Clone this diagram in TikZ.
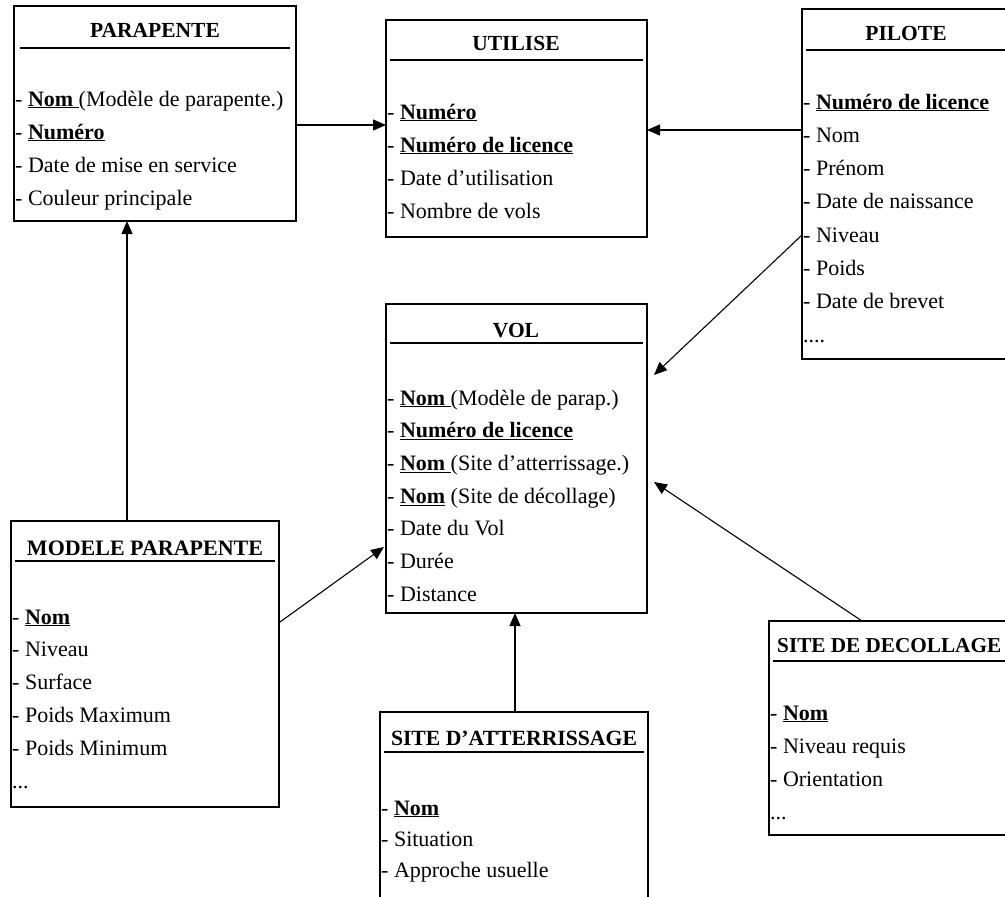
\documentclass[tikz,border=0pt]{standalone}
\usepackage{fontspec}
\usepackage{graphicx}
\setmainfont{Liberation Serif}
\usetikzlibrary{arrows.meta,calc}
\newcommand\attrlist[5]{\foreach \t [count=\i from 0] in {#5} \node[attr] (#1-\i) at (#2,{#3+#4*\i}) {\t};}
\newcommand\ellthree{...}
\newcommand\ellfour{....}
\begin{document}
\begin{tikzpicture}[x=1pt,y=-1pt,
  box/.style={draw, line width=1.6pt, inner sep=0pt, outer sep=0pt, anchor=north west},
  ttl/.style={font=\fontsize{21.5}{24}\selectfont\bfseries, inner sep=0pt, anchor=base},
  attr/.style={font=\fontsize{22}{24}\selectfont, inner sep=0pt, anchor=base west},
  sep/.style={line width=1.4pt},
  link/.style={line width=1.1pt, -{Triangle[length=13pt,width=11pt]}},
]
\useasboundingbox (0,0) rectangle (1005,897);
\clip (0,0) rectangle (1005,897);

% boxes
\node[box, minimum width=282pt, minimum height=215pt] (parapente) at (14,6) {};
\node[box, minimum width=261pt, minimum height=217pt] (utilise) at (386,20) {};
\node[box, minimum width=208pt, minimum height=350pt] (pilote) at (802,9) {};
\node[box, minimum width=261pt, minimum height=309pt] (vol) at (386,304) {};
\node[box, minimum width=268pt, minimum height=286pt] (modele) at (11,521) {};
\node[box, minimum width=268pt, minimum height=200pt] (atter) at (380,712) {};
\node[box, minimum width=246pt, minimum height=214pt] (decol) at (769,621) {};

% titles
\node[ttl] (t-parapente) at (155,37) {PARAPENTE};
\node[ttl] (t-utilise) at (516,50) {UTILISE};
\node[ttl] (t-pilote) at (906,40) {PILOTE};
\node[ttl] (t-vol) at (516,337) {VOL};
\node[ttl] (t-modele) at (145,555) {\resizebox{236pt}{!}{MODELE PARAPENTE}};
\node[ttl] (t-atter) at (514,745) {\resizebox{246pt}{!}{SITE D’ATTERRISSAGE}};
\node[ttl, anchor=base west] (t-decol) at (777,652) {\resizebox{224pt}{!}{SITE DE DECOLLAGE}};

% separators
\draw[sep] (20,48) -- (290,48);
\draw[sep] (390,60) -- (643,60);
\draw[sep] (806,50) -- (1005,50);
\draw[sep] (390,343) -- (643,343);
\draw[sep] (15,561) -- (275,561);
\draw[sep] (384,752) -- (644,752);
\draw[sep] (773,661) -- (1005,661);

% attributes
\attrlist{pa}{15}{106}{33}{{- \underline{\textbf{Nom} }(Modèle de parapente.)},{- \underline{\textbf{Numéro}}},{- Date de mise en service},{- Couleur principale}}
\attrlist{ut}{387}{119}{33}{{- \underline{\textbf{Numéro}}},{- \underline{\textbf{Numéro de licence}}},{- Date d’utilisation},{- Nombre de vols}}
\attrlist{pi}{803}{109}{33.3}{{- \underline{\textbf{Numéro de licence}}},{- Nom},{- Prénom},{- Date de naissance},{- Niveau},{- Poids},{- Date de brevet},{\ellfour}}
\attrlist{vo}{387}{405}{32.7}{{- \underline{\textbf{Nom} }(Modèle de parap.)},{- \underline{\textbf{Numéro de licence}}},{- \underline{\textbf{Nom} }(Site d’atterrissage.)},{- \underline{\textbf{Nom}} (Site de décollage)},{- Date du Vol},{- Durée},{- Distance}}
\attrlist{mo}{12}{624}{32.8}{{- \underline{\textbf{Nom}}},{- Niveau},{- Surface},{- Poids Maximum},{- Poids Minimum},{\ellthree}}
\attrlist{at}{381}{815}{31}{{- \underline{\textbf{Nom}}},{- Situation},{- Approche usuelle}}
\attrlist{de}{770}{720}{33}{{- \underline{\textbf{Nom}}},{- Niveau requis},{- Orientation},{\ellthree}}

% connectors
\draw[link] ($(parapente.north east)+(0,119)$) -- ($(utilise.north west)+(0,105)$);
\draw[link] ($(pilote.north west)+(0,121)$) -- ($(utilise.north east)+(0,110)$);
\draw[link] ($(pilote.north west)+(0,226)$) -- ($(vol.north east)+(7,71)$);
\draw[link] ($(decol.north west)+(93,0)$) -- ($(vol.north east)+(7,178)$);
\coordinate (a5) at ($(atter.north)+(1,0)$);
\draw[link] (a5) -- (a5 |- vol.south);
\coordinate (m6) at ($(modele.north west)+(116,0)$);
\draw[link] (m6) -- (m6 |- parapente.south);
\draw[link] ($(modele.north east)+(1,101)$) -- ($(vol.north west)+(-2,243)$);
\end{tikzpicture}
\end{document}
